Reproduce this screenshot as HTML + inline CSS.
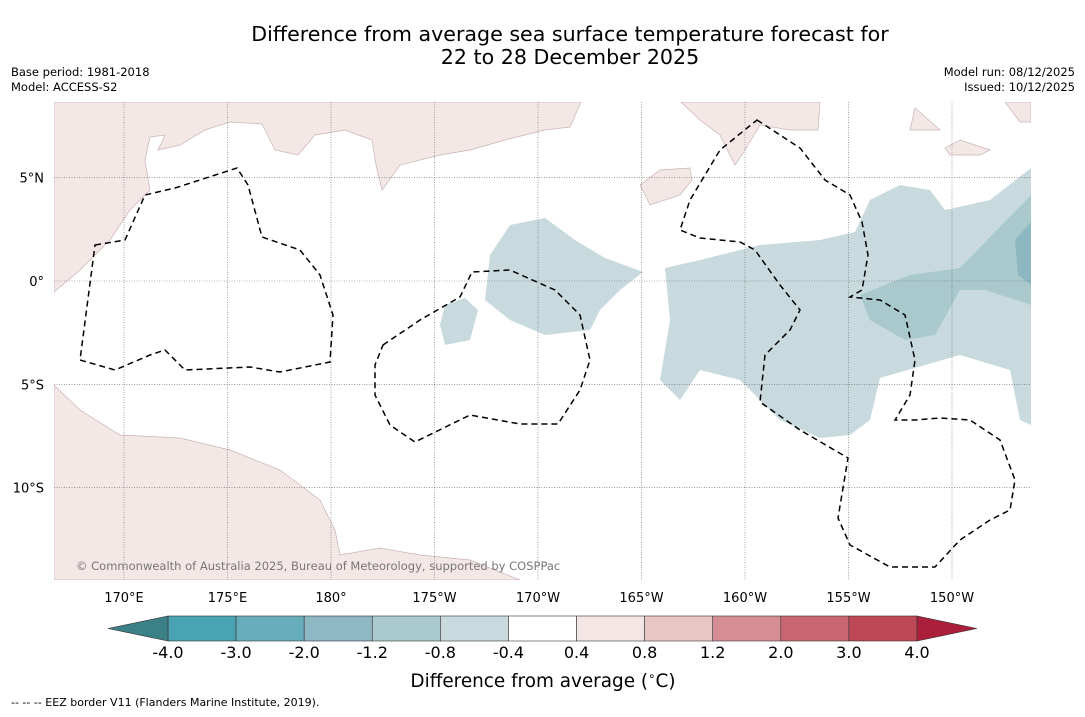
<!DOCTYPE html>
<html><head><meta charset="utf-8">
<style>
html,body{margin:0;padding:0;background:#fff;}
body{width:1085px;height:713px;overflow:hidden;font-family:"DejaVu Sans","Liberation Sans",sans-serif;}
</style></head>
<body>
<svg id="chart" width="1085" height="713" viewBox="0 0 1085 713" xmlns="http://www.w3.org/2000/svg" font-family="DejaVu Sans, Liberation Sans, sans-serif">
<text x="570" y="41" font-size="20.6" text-anchor="middle" fill="#000">Difference from average sea surface temperature forecast for</text>
<text x="570" y="64" font-size="20.6" text-anchor="middle" fill="#000">22 to 28 December 2025</text>
<text x="11" y="76" font-size="11.5">Base period: 1981-2018</text>
<text x="11" y="91" font-size="11.5">Model: ACCESS-S2</text>
<text x="1075" y="76" font-size="11.5" text-anchor="end">Model run: 08/12/2025</text>
<text x="1075" y="91" font-size="11.5" text-anchor="end">Issued: 10/12/2025</text>

<defs><clipPath id="mapclip"><rect x="54" y="102" width="977" height="478"/></clipPath></defs>
<g clip-path="url(#mapclip)">
  <rect x="54" y="102" width="977" height="478" fill="#fff"/>
  <g>
    <path d="M490,255 L510,225 L545,218 L575,240 L605,258 L643,272 L620,290 L600,310 L590,330 L545,335 L510,320 L485,300 Z" fill="#c8dadd"/>
    <path d="M445,305 L465,298 L478,310 L470,340 L445,345 L440,325 Z" fill="#c8dadd"/>
    <path d="M665,268 L700,260 L760,245 L820,240 L855,232 L870,200 L900,185 L930,190 L945,210 L990,200 L1031,168 L1031,425 L1020,420 L1010,370 L960,355 L880,378 L870,420 L850,435 L820,438 L780,420 L740,380 L700,370 L680,400 L660,380 L670,320 Z" fill="#c8dadd"/>
    <path d="M860,295 L910,275 L960,268 L1031,195 L1031,305 L985,290 L960,290 L935,335 L905,340 L870,320 Z" fill="#a9c9cd"/>
    <path d="M1015,240 L1031,222 L1031,285 L1018,275 Z" fill="#8db8c2"/>
  </g>
  <g fill="#f4e8e7" stroke="#c9b3b3" stroke-width="0.7">
    <path d="M54,102 L581,102 L570,127 L545,130 L505,140 L470,150 L440,155 L400,165 L382,190 L376,165 L372,140 L345,130 L315,135 L298,155 L275,150 L262,124 L230,122 L205,130 L180,145 L158,150 L165,135 L150,137 L145,160 L150,190 L130,210 L110,240 L80,270 L54,292 Z"/>
    <path d="M54,385 L80,410 L120,435 L180,438 L230,450 L280,470 L320,500 L335,530 L340,555 L380,548 L420,555 L470,560 L520,580 L54,580 Z"/>
    <path d="M681,102 L820,102 L818,130 L790,130 L760,125 L745,150 L735,165 L720,135 L700,120 Z"/>
    <path d="M640,185 L660,170 L690,168 L692,180 L680,195 L650,205 Z"/>
    <path d="M915,108 L940,130 L910,130 Z"/>
    <path d="M945,148 L960,140 L990,150 L980,155 L950,155 Z"/>
    <path d="M1005,102 L1031,102 L1031,122 L1020,122 Z"/>
  </g>
  <g id="grid" stroke="#666" stroke-width="0.6" stroke-dasharray="1,1.5"></g>
  <g fill="none" stroke="#000" stroke-width="1.5" stroke-dasharray="6,4">
    <path d="M95,245 L125,240 L145,195 L175,188 L237,168 L248,185 L262,237 L300,250 L320,275 L333,315 L330,362 L280,372 L250,367 L185,370 L165,350 L150,355 L115,370 L80,360 Z"/>
    <path d="M383,345 L420,320 L460,297 L472,272 L510,270 L555,290 L580,315 L590,360 L580,390 L558,424 L520,424 L470,415 L415,442 L390,425 L375,395 L375,365 Z"/>
    <path d="M757,120 L800,148 L825,180 L850,195 L862,222 L868,255 L862,290 L850,297 L880,300 L905,315 L915,360 L910,395 L895,420 L915,420 L940,418 L970,420 L1000,440 L1015,480 L1010,510 L990,520 L960,540 L935,567 L890,567 L850,545 L838,518 L848,458 L800,430 L760,402 L765,355 L790,330 L800,310 L780,285 L755,250 L740,242 L700,238 L680,230 L690,200 L720,150 Z"/>
  </g>
  <text x="76" y="570" font-size="11.5" fill="#777">© Commonwealth of Australia 2025, Bureau of Meteorology, supported by COSPPac</text>
</g>
<g id="lonlabels"></g>
<g id="latlabels"></g>
<g id="colorbar"></g>
<text x="543" y="687" font-size="18.4" text-anchor="middle">Difference from average (<tspan font-size="12" dy="-7">∘</tspan><tspan dy="7">C)</tspan></text>
<text x="11" y="706" font-size="11">--  --  -- EEZ border V11 (Flanders Marine Institute, 2019).</text>
</svg>
<script>
const lonTicks = [170, 175, 180, -175, -170, -165, -160, -155, -150];
const lonLabels = ["170°E","175°E","180°","175°W","170°W","165°W","160°W","155°W","150°W"];
const latTicks = [5, 0, -5, -10];
const latLabels = ["5°N","0°","5°S","10°S"];
const levels = [-4.0,-3.0,-2.0,-1.2,-0.8,-0.4,0.4,0.8,1.2,2.0,3.0,4.0];
const levelLabels = ["-4.0","-3.0","-2.0","-1.2","-0.8","-0.4","0.4","0.8","1.2","2.0","3.0","4.0"];
const colors = ["#4aa3b2","#68adbb","#8db8c4","#a9c9cd","#c8dadd","#ffffff","#f4e6e4","#e8c6c1","#d68e95","#ca6671","#bf4857"];
const extremeColors = ["#3b7f87","#ab1f3a"];

const NS="http://www.w3.org/2000/svg";
function xLon(l){const e=l<0?l+360:l;return 124+(e-170)*20.7;}
function yLat(l){return 281-l*20.66;}
function mk(tag,attrs,parent){const e=document.createElementNS(NS,tag);for(const k in attrs)e.setAttribute(k,attrs[k]);parent.appendChild(e);return e;}

const grid=document.getElementById('grid');
lonTicks.forEach((l,i)=>{
  const ln=mk('line',{x1:xLon(l),x2:xLon(l),y1:102,y2:580},grid);
  
  
  const t=mk('text',{x:xLon(l),y:602,'font-size':13,'text-anchor':'middle'},document.getElementById('lonlabels'));
  t.textContent=lonLabels[i];
  
  
});
latTicks.forEach((l,i)=>{
  const ln=mk('line',{x1:54,x2:1031,y1:yLat(l),y2:yLat(l)},grid);
  
  
  const t=mk('text',{x:44,y:yLat(l)+5,'font-size':13,'text-anchor':'end'},document.getElementById('latlabels'));
  t.textContent=latLabels[i];
  
  
});

const cb=document.getElementById('colorbar');
const cbX0=168, cbX1=917, cbY=616, cbH=25;
const w=(cbX1-cbX0)/colors.length;
colors.forEach((c,i)=>{
  const r=mk('rect',{x:cbX0+i*w,y:cbY,width:w,height:cbH,fill:c,stroke:'#333','stroke-width':0.6},cb);
  
  
});
const tl=mk('polygon',{points:`${cbX0},${cbY} ${cbX0},${cbY+cbH} 108,${cbY+cbH/2}`,fill:extremeColors[0],stroke:'#333','stroke-width':0.6},cb);


const tr=mk('polygon',{points:`${cbX1},${cbY} ${cbX1},${cbY+cbH} 977,${cbY+cbH/2}`,fill:extremeColors[1],stroke:'#333','stroke-width':0.6},cb);


levels.forEach((v,i)=>{
  const t=mk('text',{x:cbX0+i*w,y:cbY+cbH+17,'font-size':16,'text-anchor':'middle'},cb);
  t.textContent=levelLabels[i];
  
  
});
</script>
</body></html>
